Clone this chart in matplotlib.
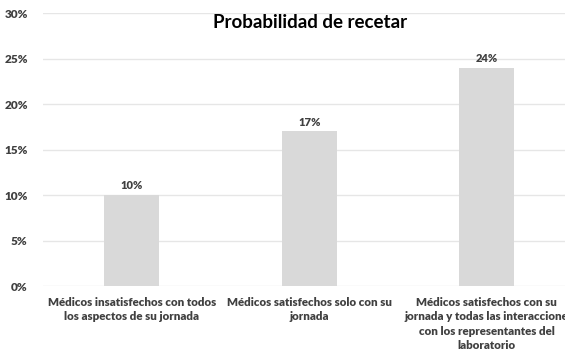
import matplotlib.pyplot as plt

# Data
categorias = [
    "Médicos insatisfechos con todos\nlos aspectos de su jornada",
    "Médicos satisfechos solo con su\njornada",
    "Médicos satisfechos con su\njornada y todas las interaccione\ncon los representantes del\nlaboratorio",
]
valores = [10, 17, 24]
yticks = [0, 5, 10, 15, 20, 25, 30]

plt.rcParams['font.family'] = ['Lato', 'DejaVu Sans']
texto = '#404040'

fig = plt.figure(figsize=(5.65, 3.55), dpi=100)
ax = fig.add_axes([0.076, 0.194, 0.9425, 0.769])

x = range(len(valores))
bars = ax.bar(x, valores, width=0.31, color='#d9d9d9', zorder=2)
for xi, v in zip(x, valores):
    ax.text(xi, v + 0.4, f"{v}%", ha='center', va='bottom', fontsize=8,
            fontweight='heavy', color=texto)

ax.set_xlim(-0.5, 2.5)
ax.set_ylim(0, 30)
ax.set_yticks(yticks)
ax.set_yticklabels([f"{t}%" for t in yticks], fontsize=8.5, fontweight='heavy', color=texto)
ax.set_xticks(list(x))
ax.set_xticklabels(categorias, fontsize=8.3, fontweight='heavy', color=texto, linespacing=1.35)
ax.tick_params(length=0, pad=8)
ax.tick_params(axis='y', pad=11)
ax.grid(axis='y', color='#e6e6e6', linewidth=1, zorder=0)
for s in ax.spines.values():
    s.set_visible(False)

fig.text(0.548, 0.937, "Probabilidad de recetar", ha='center', va='center',
         fontsize=13.5, fontweight='bold', color='black')

fig.savefig('out.png', dpi=100)
